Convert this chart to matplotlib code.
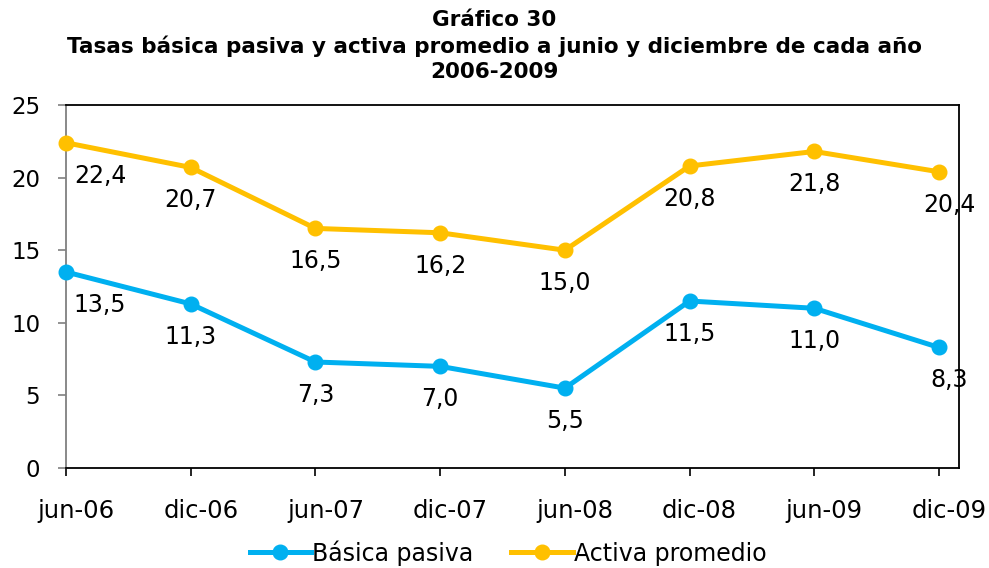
import matplotlib.pyplot as plt
import matplotlib.transforms as mtransforms

# datos del gráfico
periodos = ['jun-06', 'dic-06', 'jun-07', 'dic-07', 'jun-08', 'dic-08', 'jun-09', 'dic-09']
basica_pasiva = [13.5, 11.3, 7.3, 7.0, 5.5, 11.5, 11.0, 8.3]
activa_promedio = [22.4, 20.7, 16.5, 16.2, 15.0, 20.8, 21.8, 20.4]

azul = '#00B0F0'
amarillo = '#FFC000'

fig = plt.figure(figsize=(9.89, 5.68), dpi=100)
ax = fig.add_axes([66 / 989, 1 - 468 / 568, (959 - 66) / 989, (468 - 105) / 568])

x = list(range(len(periodos)))
ax.plot(x, basica_pasiva, color=azul, lw=3.6, marker='o', ms=10.5, label='Básica pasiva', clip_on=False, zorder=3)
ax.plot(x, activa_promedio, color=amarillo, lw=3.6, marker='o', ms=10.5, label='Activa promedio', clip_on=False, zorder=3)

# etiquetas de valores debajo de cada punto
def dx(i):
    if i == 0:
        return 34
    if i == len(x) - 1:
        return 10
    return 0

for serie in (basica_pasiva, activa_promedio):
    for i, v in enumerate(serie):
        ax.annotate(f'{v:.1f}'.replace('.', ','), (i, v), xytext=(dx(i), -33),
                    textcoords='offset pixels', ha='center', va='center', fontsize=17)

ax.set_xlim(0, 7.16)
ax.set_ylim(0, 25)
ax.set_yticks([0, 5, 10, 15, 20, 25])
ax.set_xticks(x)
ax.set_xticklabels(periodos)
ax.tick_params(axis='x', labelsize=17.5, direction='out', length=6, width=1.2, pad=16, colors='black')
ax.tick_params(axis='y', labelsize=16.5, direction='out', length=6, width=1.2, pad=12.5, color='#808080')

# las etiquetas del eje x van algo corridas a la derecha
desplaza = mtransforms.ScaledTranslation(10 / 100, 0, fig.dpi_scale_trans)
for lbl in ax.get_xticklabels():
    lbl.set_transform(lbl.get_transform() + desplaza)

ax.spines['left'].set_color('#808080')
for s in ('right', 'top', 'bottom'):
    ax.spines[s].set_color('black')
for s in ax.spines.values():
    s.set_linewidth(1.3)

fig.text(0.5, 1 - 20 / 568, 'Gráfico 30', ha='center', va='center', fontsize=15.5, fontweight='bold')
fig.text(0.5, 1 - 46 / 568, 'Tasas básica pasiva y activa promedio a junio y diciembre de cada año',
         ha='center', va='center', fontsize=15.5, fontweight='bold')
fig.text(0.5, 1 - 72 / 568, '2006-2009', ha='center', va='center', fontsize=15.5, fontweight='bold')

fig.legend(loc='center', bbox_to_anchor=(508 / 989, 1 - 553 / 568), ncol=2, frameon=False,
           fontsize=17, handlelength=2.6, handletextpad=0.05, columnspacing=1.6)

fig.savefig('out.png', dpi=100)
